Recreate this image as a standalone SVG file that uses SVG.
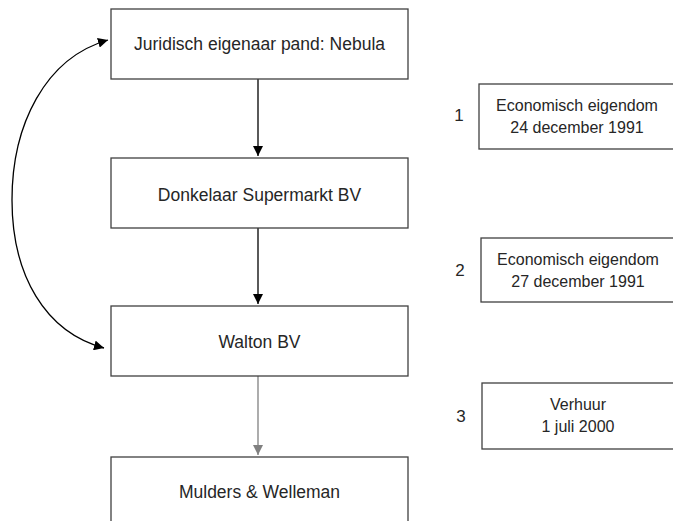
<svg xmlns="http://www.w3.org/2000/svg" width="673" height="521" viewBox="0 0 673 521">
<style>
.box{fill:#fff;stroke:#404040;stroke-width:1.3}
.t{font-family:"Liberation Sans",Arial,sans-serif;font-size:17.5px;fill:#262626;text-anchor:middle}
.s{font-family:"Liberation Sans",Arial,sans-serif;font-size:16px;fill:#262626;text-anchor:middle}
.n{font-family:"Liberation Sans",Arial,sans-serif;font-size:17px;fill:#262626;text-anchor:middle}
.c{fill:none;stroke:#000;stroke-width:1.3}
.g{fill:none;stroke:#808080;stroke-width:1.3}
</style>
<defs>
<marker id="ab" viewBox="0 0 10 10" refX="10" refY="5" markerWidth="10" markerHeight="10" markerUnits="userSpaceOnUse" orient="auto-start-reverse"><path d="M0,0 L10,5 L0,10 z" fill="#000"/></marker>
<marker id="ag" viewBox="0 0 10 10" refX="10" refY="5" markerWidth="10" markerHeight="10" markerUnits="userSpaceOnUse" orient="auto"><path d="M0,0 L10,5 L0,10 z" fill="#808080"/></marker>
</defs>
<rect width="673" height="521" fill="#fff"/>
<g id="connectors">
<line class="c" x1="258" y1="79" x2="258" y2="156" marker-end="url(#ab)"/>
<line class="c" x1="258" y1="228" x2="258" y2="304" marker-end="url(#ab)"/>
<line class="g" x1="258" y1="376" x2="258" y2="455" marker-end="url(#ag)"/>
<path class="c" d="M104 348 C 45 332, 12 275, 12 200 C 12 125, 45 58, 108 40" marker-start="url(#ab)" marker-end="url(#ab)"/>
</g>
<g id="node-nebula"><rect class="box" x="111" y="9" width="297" height="70"/><text class="t" x="259.5" y="50">Juridisch eigenaar pand: Nebula</text></g>
<g id="node-donkelaar"><rect class="box" x="111" y="158" width="297" height="70"/><text class="t" x="259.5" y="201">Donkelaar Supermarkt BV</text></g>
<g id="node-walton"><rect class="box" x="111" y="306" width="297" height="70"/><text class="t" x="259.5" y="348">Walton BV</text></g>
<g id="node-mulders"><rect class="box" x="111" y="457" width="297" height="80"/><text class="t" x="259.5" y="498">Mulders &amp; Welleman</text></g>
<g id="note-1"><text class="n" x="459" y="121">1</text><rect class="box" x="479" y="84" width="200" height="65"/><text class="s" x="577" y="111">Economisch eigendom</text><text class="s" x="577" y="133">24 december 1991</text></g>
<g id="note-2"><text class="n" x="460" y="276">2</text><rect class="box" x="481" y="238" width="200" height="64"/><text class="s" x="578" y="265">Economisch eigendom</text><text class="s" x="578" y="287">27 december 1991</text></g>
<g id="note-3"><text class="n" x="461" y="422">3</text><rect class="box" x="482" y="383" width="200" height="66"/><text class="s" x="578" y="410">Verhuur</text><text class="s" x="578" y="432">1 juli 2000</text></g>
</svg>
